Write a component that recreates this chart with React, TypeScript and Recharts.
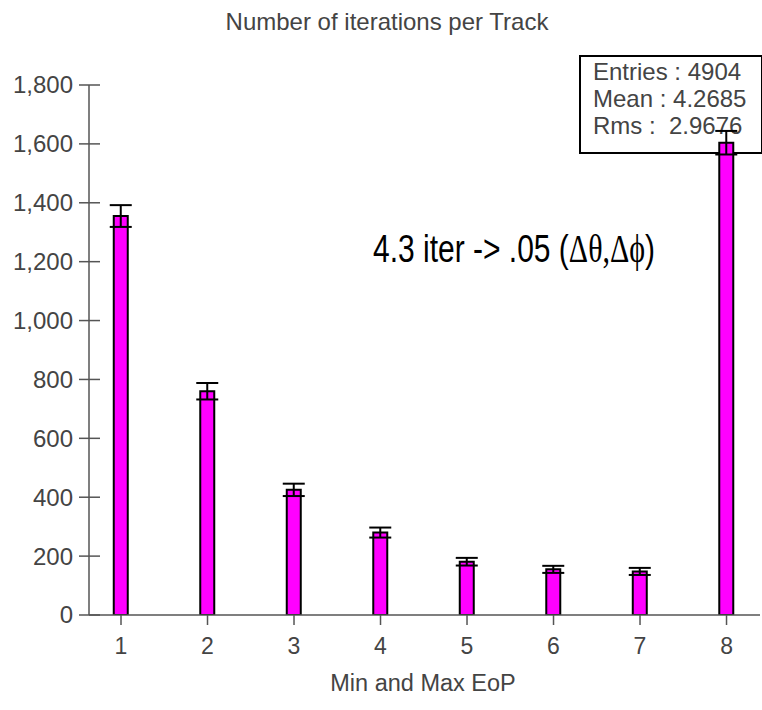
import React from 'react';
import { BarChart, Bar, XAxis, YAxis, ErrorBar, Customized } from 'recharts';

const bins = [1, 2, 3, 4, 5, 6, 7, 8];
const counts = [1355, 760, 425, 280, 181, 155, 148, 1604];
const errors = [37, 28, 21, 17, 13, 12, 12, 40];
const yTicks = [0, 200, 400, 600, 800, 1000, 1200, 1400, 1600, 1800];
const statLines = ['Entries : 4904', 'Mean : 4.2685', 'Rms :  2.9676'];

const data = bins.map((b, i) => ({ bin: b, count: counts[i], err: errors[i] }));

const FONT = '"Liberation Sans", Arial, sans-serif';
const GREY = '#444';
const AXIS = '#555';

const fmt = (v: number) => v.toLocaleString('en-US');

function YTick(props: any) {
    const { x, y, payload } = props;
    return (
        <g>
            <line x1={x - 10} x2={x + 11} y1={y} y2={y} stroke={AXIS} strokeWidth={1.5} />
            <text x={x - 16} y={y} dy="0.35em" textAnchor="end" fill={GREY} fontSize={24} fontFamily={FONT}>
                {fmt(payload.value)}
            </text>
        </g>
    );
}

function XTick(props: any) {
    const { x, y, payload } = props;
    return (
        <text x={x} y={y + 27} textAnchor="middle" fill={GREY} fontSize={23} fontFamily={FONT}>
            {payload.value}
        </text>
    );
}

// the big note is taller than it is wide in the original, so stretch it a little
function Annotation() {
    return (
        <text transform="translate(373,262) scale(1,1.3)" x={0} y={0} fontSize={30} fontFamily={FONT} fill="#000">
            4.3 iter -&gt; .05 (
            <tspan fontFamily='"Liberation Serif", "Times New Roman", serif'>Δθ,Δϕ</tspan>)
        </text>
    );
}

export default function App() {
    return (
        <div style={{ position: 'absolute', left: 0, top: 0, width: 762, height: 710, background: '#fff' }}>
            <div
                style={{
                    position: 'absolute', left: 579, top: 55, width: 180, height: 95,
                    border: '2px solid #000', background: '#fff', zIndex: 0,
                    fontFamily: FONT, fontSize: 24, color: GREY,
                }}
            >
                {statLines.map((s, i) => (
                    <div key={i} style={{ position: 'absolute', left: 12, top: 1 + i * 27, whiteSpace: 'pre', lineHeight: '27px' }}>{s}</div>
                ))}
            </div>
            <div style={{ position: 'absolute', left: 0, top: 0, zIndex: 1 }}>
                <BarChart width={762} height={710} data={data} margin={{ top: 85, right: 2, bottom: 35, left: 9 }}>
                    <text x={387} y={30} textAnchor="middle" fill={GREY} fontSize={24} fontFamily={FONT}>
                        Number of iterations per Track
                    </text>
                    <XAxis
                        dataKey="bin"
                        type="number"
                        domain={[0.63, 8.387]}
                        ticks={bins}
                        allowDataOverflow
                        height={60}
                        stroke={AXIS}
                        strokeWidth={1.5}
                        tickSize={10}
                        tick={<XTick />}
                        tickLine={{ stroke: AXIS, strokeWidth: 1.5 }}
                    />
                    <YAxis
                        type="number"
                        domain={[0, 1800]}
                        ticks={yTicks}
                        allowDataOverflow
                        width={80}
                        stroke={AXIS}
                        strokeWidth={1.5}
                        tickSize={0}
                        tickMargin={0}
                        tickLine={false}
                        tick={<YTick />}
                    />
                    <Bar dataKey="count" fill="#FF00FF" stroke="#000" strokeWidth={2} barSize={14} isAnimationActive={false}>
                        <ErrorBar dataKey="err" width={11} stroke="#000" strokeWidth={2} direction="y" />
                    </Bar>
                    <Customized component={Annotation} />
                    <text x={423} y={691} textAnchor="middle" fill={GREY} fontSize={23.5} fontFamily={FONT}>
                        Min and Max EoP
                    </text>
                </BarChart>
            </div>
        </div>
    );
}
